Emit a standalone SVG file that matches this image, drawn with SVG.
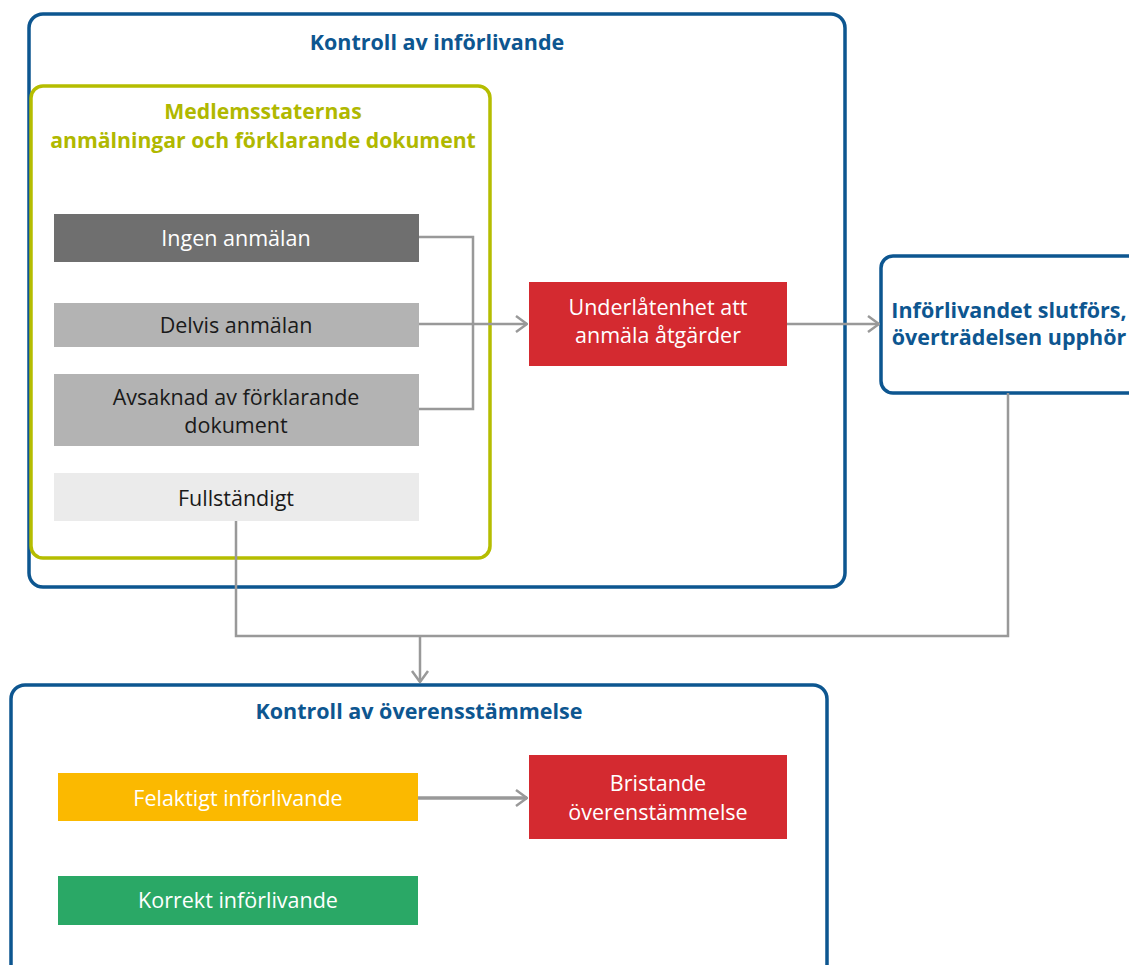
<svg xmlns="http://www.w3.org/2000/svg" width="1129" height="965" viewBox="0 0 1129 965">
  <defs>
    <style>
      .frame { fill: #ffffff; stroke: #0d5690; stroke-width: 3.5; }
      .group { fill: none; stroke: #b5bd00; stroke-width: 3.5; }
      .title { font-family: "Open Sans", "Liberation Sans", sans-serif; font-weight: bold; font-size: 21.5px; fill: #0d5690; text-anchor: middle; }
      .gtitle { font-family: "Open Sans", "Liberation Sans", sans-serif; font-weight: bold; font-size: 21.2px; fill: #b0b800; text-anchor: middle; }
      .lbl { font-family: "Open Sans", "Liberation Sans", sans-serif; font-size: 21.5px; text-anchor: middle; }
      .dark { fill: #1a1a1a; }
      .light { fill: #ffffff; }
      .conn { fill: none; stroke: #999999; stroke-width: 2.5; }
      .connw { fill: none; stroke: #999999; stroke-width: 3.5; }
    </style>
    <marker id="arrow" viewBox="0 0 20 20" refX="19" refY="10" markerWidth="20" markerHeight="20" markerUnits="userSpaceOnUse" orient="auto">
      <path d="M 8 2 L 19 10 L 8 18" fill="none" stroke="#999999" stroke-width="2.5"/>
    </marker>
  </defs>

  <!-- Transposition check frame -->
  <g id="kontroll-inforlivande">
    <rect class="frame" x="29" y="14" width="816" height="573" rx="14"/>
    <text class="title" x="437" y="50">Kontroll av införlivande</text>
  </g>

  <!-- Member state notifications group -->
  <g id="medlemsstater">
    <rect class="group" x="31" y="86" width="459" height="472" rx="12"/>
    <text class="gtitle" x="263" y="119">Medlemsstaternas</text>
    <text class="gtitle" x="263" y="148">anmälningar och förklarande dokument</text>
  </g>

  <g id="ingen-anmalan">
    <rect x="54" y="214" width="365" height="48" fill="#6f6f6f"/>
    <text class="lbl light" x="236" y="246">Ingen anmälan</text>
  </g>

  <g id="delvis-anmalan">
    <rect x="54" y="303" width="365" height="44" fill="#b3b3b3"/>
    <text class="lbl dark" x="236" y="333">Delvis anmälan</text>
  </g>

  <g id="avsaknad">
    <rect x="54" y="374" width="365" height="72" fill="#b3b3b3"/>
    <text class="lbl dark" x="236" y="405">Avsaknad av förklarande</text>
    <text class="lbl dark" x="236" y="433">dokument</text>
  </g>

  <g id="fullstandigt">
    <rect x="54" y="473" width="365" height="48" fill="#ebebeb"/>
    <text class="lbl dark" x="236" y="506">Fullständigt</text>
  </g>

  <g id="underlatenhet">
    <rect x="529" y="282" width="258" height="84" fill="#d42a30"/>
    <text class="lbl light" x="658" y="315">Underlåtenhet att</text>
    <text class="lbl light" x="658" y="343">anmäla åtgärder</text>
  </g>

  <g id="slutfors">
    <rect class="frame" x="881" y="256" width="262" height="137" rx="12"/>
    <text class="title" x="1009" y="318">Införlivandet slutförs,</text>
    <text class="title" x="1009" y="345">överträdelsen upphör</text>
  </g>

  <!-- Conformity check frame -->
  <g id="kontroll-overensstammelse">
    <rect class="frame" x="11" y="685" width="816" height="300" rx="14"/>
    <text class="title" x="419" y="719">Kontroll av överensstämmelse</text>
  </g>

  <g id="felaktigt">
    <rect x="58" y="773" width="360" height="48" fill="#fbb900"/>
    <text class="lbl light" x="238" y="806">Felaktigt införlivande</text>
  </g>

  <g id="bristande">
    <rect x="529" y="755" width="258" height="84" fill="#d42a30"/>
    <text class="lbl light" x="658" y="791">Bristande</text>
    <text class="lbl light" x="658" y="820">överenstämmelse</text>
  </g>

  <g id="korrekt">
    <rect x="58" y="876" width="360" height="49" fill="#2aa866"/>
    <text class="lbl light" x="238" y="908">Korrekt införlivande</text>
  </g>

  <!-- Connectors -->
  <g id="connectors">
    <path class="conn" d="M 419 237 H 473 V 409 H 419"/>
    <path class="conn" d="M 419 324 H 527" marker-end="url(#arrow)"/>
    <path class="conn" d="M 787 324 H 879" marker-end="url(#arrow)"/>
    <path class="conn" d="M 236 521 V 636 H 1008 V 393"/>
    <path class="conn" d="M 420 636 V 682" marker-end="url(#arrow)"/>
    <path class="connw" d="M 418 798 H 527" marker-end="url(#arrow)"/>
  </g>
</svg>
